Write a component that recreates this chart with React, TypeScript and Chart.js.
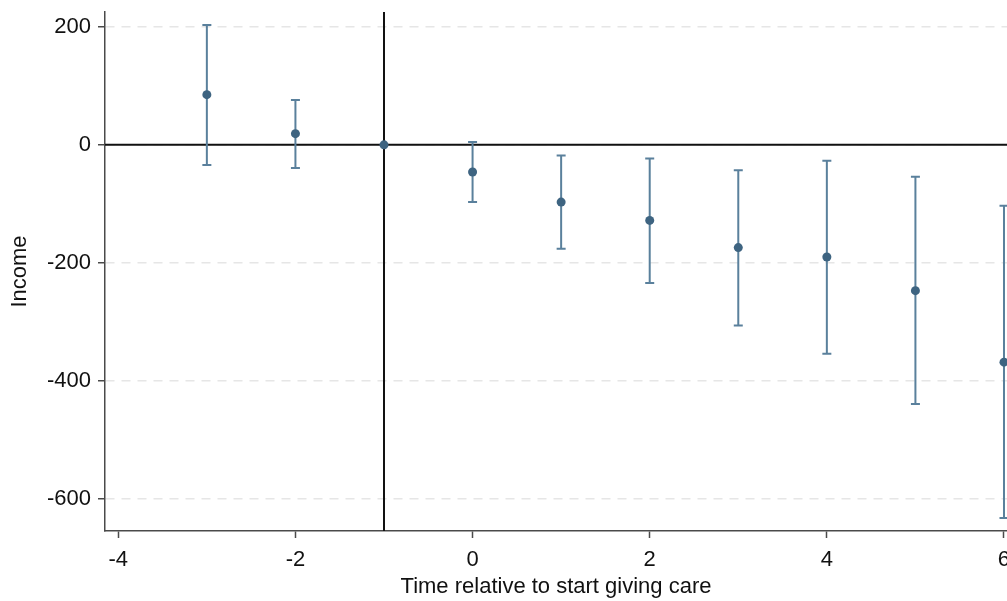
import React, { useEffect, useRef } from "react";
import { Chart, registerables } from "chart.js";

Chart.register(...registerables);

const periods = [-3, -2, -1, 0, 1, 2, 3, 4, 5, 6];
const estimates = [85, 19, 0, -46, -97, -128, -174, -190, -247, -368];
const lowerCI = [-34, -39, 0, -97, -176, -234, -306, -354, -439, -632];
const upperCI = [203, 76, 0, 5, -18, -23, -43, -27, -54, -103];
const xTicks = [-4, -2, 0, 2, 4, 6];
const yTicks = [-600, -400, -200, 0, 200];
const refX = -1;
const refY = 0;

const POINT_COLOR = "#3e6481";
const BAR_COLOR = "#5a809c";
const AXIS_COLOR = "#4a4a4a";
const FONT = "'Liberation Sans', Arial, sans-serif";

const errorBarPlugin = {
  id: "errorBars",
  beforeDatasetsDraw(chart: any) {
    const { ctx, chartArea, scales } = chart;
    const xs = scales.x;
    const ys = scales.y;
    ctx.save();
    ctx.strokeStyle = "#111111";
    ctx.lineWidth = 2;
    const x0 = xs.getPixelForValue(refX);
    ctx.beginPath();
    ctx.moveTo(x0, chartArea.top);
    ctx.lineTo(x0, chartArea.bottom);
    ctx.stroke();
    const y0 = ys.getPixelForValue(refY);
    ctx.beginPath();
    ctx.moveTo(chartArea.left, y0);
    ctx.lineTo(chartArea.right, y0);
    ctx.stroke();
    ctx.strokeStyle = BAR_COLOR;
    ctx.lineWidth = 2;
    const cap = 4.5;
    periods.forEach((p, i) => {
      if (lowerCI[i] === upperCI[i]) return;
      const px = xs.getPixelForValue(p);
      const yl = ys.getPixelForValue(lowerCI[i]);
      const yu = ys.getPixelForValue(upperCI[i]);
      ctx.beginPath();
      ctx.moveTo(px, yl);
      ctx.lineTo(px, yu);
      ctx.moveTo(px - cap, yl);
      ctx.lineTo(px + cap, yl);
      ctx.moveTo(px - cap, yu);
      ctx.lineTo(px + cap, yu);
      ctx.stroke();
    });
    ctx.restore();
  },
};

export default function App() {
  const canvasRef = useRef<HTMLCanvasElement | null>(null);

  useEffect(() => {
    const canvas = canvasRef.current;
    if (!canvas) return;
    const chart = new Chart(canvas, {
      type: "scatter",
      data: {
        datasets: [
          {
            data: periods.map((p, i) => ({ x: p, y: estimates[i] })),
            backgroundColor: POINT_COLOR,
            borderColor: POINT_COLOR,
            pointRadius: 4.5,
            pointBorderWidth: 0,
            clip: false,
          },
        ],
      },
      options: {
        animation: false,
        responsive: false,
        devicePixelRatio: 1,
        layout: { autoPadding: false, padding: { top: 12, left: 0, right: 0, bottom: 0 } },
        plugins: {
          legend: { display: false },
          tooltip: { enabled: false },
        },
        scales: {
          x: {
            type: "linear",
            min: -4.15,
            max: 6.034,
            afterBuildTicks: (scale: any) => {
              scale.ticks = xTicks.map((v) => ({ value: v }));
            },
            afterFit: (scale: any) => {
              scale.height = 70;
              scale.paddingLeft = 0;
              scale.paddingRight = 0;
            },
            grid: {
              drawOnChartArea: false,
              drawTicks: true,
              tickLength: 7,
              tickColor: AXIS_COLOR,
              tickWidth: 1.5,
            },
            border: { color: AXIS_COLOR, width: 1.5 },
            ticks: {
              color: "#111111",
              padding: 9,
              maxRotation: 0,
              font: { family: FONT, size: 22 },
            },
            title: {
              display: true,
              text: "Time relative to start giving care",
              color: "#111111",
              padding: { top: 0, bottom: 1 },
              font: { family: FONT, size: 22 },
            },
          },
          y: {
            type: "linear",
            min: -654,
            max: 225,
            afterBuildTicks: (scale: any) => {
              scale.ticks = yTicks.map((v) => ({ value: v }));
            },
            afterFit: (scale: any) => {
              scale.width = 105;
              scale.paddingTop = 0;
              scale.paddingBottom = 0;
            },
            grid: {
              color: "#e6e6e6",
              lineWidth: 1.5,
              drawTicks: true,
              tickLength: 7,
              tickColor: AXIS_COLOR,
              tickWidth: 1.5,
              tickBorderDash: [],
            },
            border: { color: AXIS_COLOR, width: 1.5, dash: [9, 7] },
            ticks: {
              color: "#111111",
              padding: 7,
              font: { family: FONT, size: 22 },
            },
            title: {
              display: true,
              text: "Income",
              color: "#111111",
              padding: { top: 7, bottom: 0 },
              font: { family: FONT, size: 22 },
            },
          },
        },
      },
      plugins: [errorBarPlugin],
    } as any);
    return () => chart.destroy();
  }, []);

  return (
    <div style={{ position: "fixed", left: 0, top: 0, width: 1007, height: 601, background: "#fff" }}>
      <canvas ref={canvasRef} width={1007} height={601} style={{ display: "block" }} />
    </div>
  );
}
